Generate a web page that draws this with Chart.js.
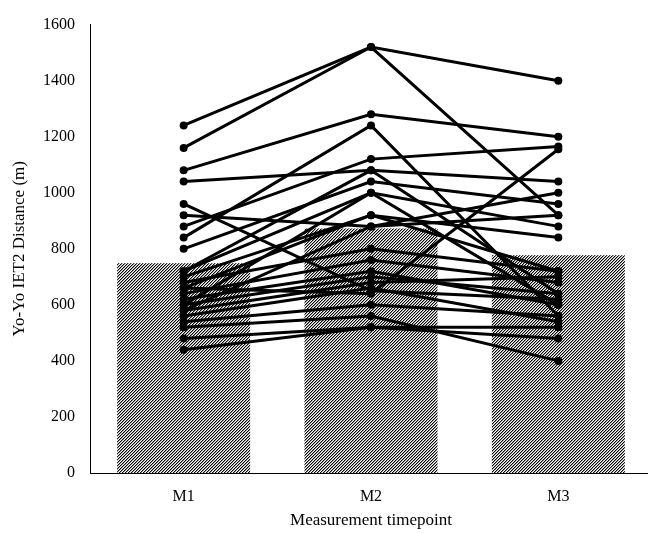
<!DOCTYPE html>
<html>
<head>
<meta charset="utf-8">
<script src="https://cdn.jsdelivr.net/npm/chart.js@4.4.1/dist/chart.umd.min.js"></script>
<style>
  html, body { margin: 0; padding: 0; background: #fff; overflow: hidden; }
  #wrap { width: 656px; height: 533px; }
</style>
</head>
<body>
<div id="wrap"><canvas id="yoyoChart" width="656" height="533"></canvas></div>
<script>
// timepoints and group means
const timepoints = ['M1', 'M2', 'M3'];
const groupMeans = [748, 872, 777];

// individual players, one entry per player at each timepoint
const distM1 = [1240, 1160, 1080, 1040, 960, 920, 880, 840, 800, 720, 700, 680, 660, 640, 620, 600, 580, 560, 540, 520, 480, 440, 720, 600, 660, 580];
const distM2 = [1520, 1520, 1280, 1080, 650, 880, 1120, 1240, 1040, 1000, 920, 800, 640, 760, 720, 700, 680, 660, 600, 560, 520, 520, 1080, 1000, 920, 880];
const distM3 = [1400, 920, 1200, 1040, 620, 1000, 1165, 560, 960, 880, 840, 720, 1155, 680, 600, 640, 700, 540, 560, 400, 480, 520, 640, 600, 720, 920];

const yTicks = [0, 200, 400, 600, 800, 1000, 1200, 1400, 1600];

const serif = "'Liberation Serif', 'Times New Roman', serif";

// fine diagonal hatch used for the mean bars
function hatchPattern() {
    const c = document.createElement('canvas');
    c.width = 3;
    c.height = 3;
    const g = c.getContext('2d');
    g.fillStyle = '#fff';
    g.fillRect(0, 0, 3, 3);
    for (let y = 0; y < 3; y++) {
        for (let x = 0; x < 3; x++) {
            const k = (x + y) % 3;
            if (k === 0) { g.fillStyle = '#000'; g.fillRect(x, y, 1, 1); }
            else if (k === 1) { g.fillStyle = '#999'; g.fillRect(x, y, 1, 1); }
        }
    }
    return g.createPattern(c, 'repeat');
}

const playerSets = distM1.map((v, i) => ({
    type: 'line',
    data: [v, distM2[i], distM3[i]],
    borderColor: '#000',
    backgroundColor: '#000',
    borderWidth: 3,
    pointRadius: 4,
    pointBorderWidth: 0,
    fill: false,
    tension: 0,
    order: 0
}));

const ctx = document.getElementById('yoyoChart').getContext('2d');
new Chart(ctx, {
    data: {
        labels: timepoints,
        datasets: [
            ...playerSets,
            {
                type: 'bar',
                data: groupMeans,
                backgroundColor: hatchPattern(),
                borderWidth: 0,
                categoryPercentage: 1,
                barPercentage: 0.71,
                order: 1
            }
        ]
    },
    options: {
        responsive: false,
        animation: false,
        layout: { padding: { top: 22, right: 0, bottom: 0, left: 0 } },
        plugins: {
            legend: { display: false },
            tooltip: { enabled: false }
        },
        scales: {
            x: {
                grid: { display: false, drawTicks: false },
                border: { display: true, color: '#000', width: 1 },
                ticks: { color: '#000', padding: 14, font: { family: serif, size: 16 } },
                title: {
                    display: true,
                    text: 'Measurement timepoint',
                    color: '#000',
                    padding: { top: 0, bottom: 2 },
                    font: { family: serif, size: 17 }
                },
                afterFit: (scale) => { scale.height = 60; }
            },
            y: {
                min: 0,
                max: 1600,
                afterBuildTicks: (scale) => { scale.ticks = yTicks.map(v => ({ value: v })); },
                grid: { display: false, drawTicks: false },
                border: { display: true, color: '#000', width: 1 },
                ticks: {
                    color: '#000',
                    padding: 15,
                    font: { family: serif, size: 16 },
                    callback: (v) => String(v)
                },
                title: {
                    display: true,
                    text: 'Yo-Yo IET2 Distance (m)',
                    color: '#000',
                    padding: { top: 9, bottom: 0 },
                    font: { family: serif, size: 17 }
                },
                afterFit: (scale) => { scale.width = 90; }
            }
        }
    }
});
</script>
</body>
</html>
